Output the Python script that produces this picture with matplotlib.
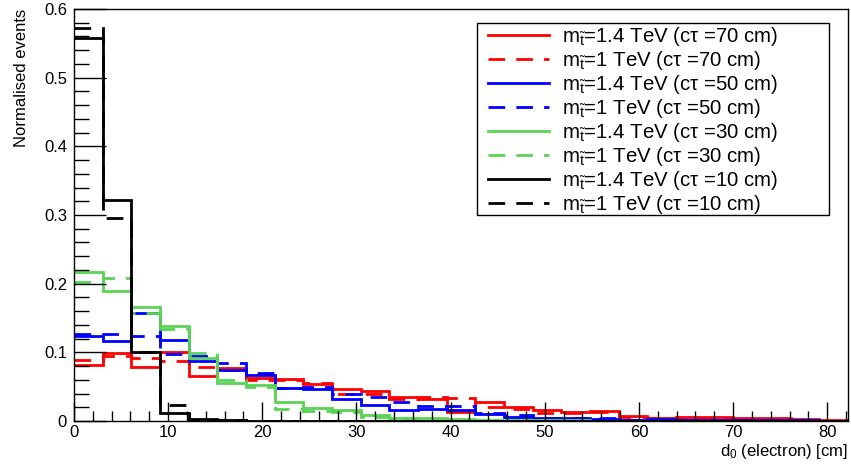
import numpy as np
import matplotlib
matplotlib.use('Agg')
import matplotlib.pyplot as plt
from matplotlib.ticker import MultipleLocator
from matplotlib.patches import Rectangle

plt.rcParams['font.family'] = ['Liberation Sans', 'DejaVu Sans']
plt.rcParams['mathtext.fontset'] = 'custom'
plt.rcParams['mathtext.rm'] = 'Liberation Sans'
plt.rcParams['mathtext.it'] = 'Liberation Sans'

# d0 histogram, 27 bins from 0 to 82.2 cm
nbins = 27
xmax = 82.2

red_14 = [0.082, 0.0995, 0.079, 0.100, 0.065, 0.077, 0.063, 0.061, 0.054, 0.046,
          0.043, 0.035, 0.032, 0.0136, 0.027, 0.021, 0.016, 0.0136, 0.015, 0.0073,
          0.005, 0.006, 0.006, 0.004, 0.004, 0.003, 0.001]
red_10 = [0.089, 0.094, 0.092, 0.088, 0.079, 0.074, 0.060, 0.059, 0.055, 0.040,
          0.039, 0.0316, 0.035, 0.034, 0.021, 0.017, 0.012, 0.011, 0.0136, 0.0053,
          0.004, 0.004, 0.005, 0.0035, 0.003, 0.001, 0.0]
blue_14 = [0.124, 0.117, 0.157, 0.118, 0.087, 0.074, 0.067, 0.048, 0.046, 0.0316,
           0.023, 0.016, 0.017, 0.016, 0.010, 0.0053, 0.004, 0.004, 0.003, 0.002,
           0.003, 0.002, 0.002, 0.001, 0.001, 0.001, 0.0]
blue_10 = [0.127, 0.127, 0.124, 0.097, 0.094, 0.084, 0.070, 0.048, 0.050, 0.040,
           0.0345, 0.028, 0.022, 0.022, 0.011, 0.0087, 0.005, 0.004, 0.004, 0.002,
           0.002, 0.002, 0.002, 0.001, 0.001, 0.0, 0.0]
green_14 = [0.217, 0.190, 0.166, 0.139, 0.092, 0.055, 0.052, 0.027, 0.019, 0.016,
            0.0087, 0.005, 0.004, 0.003, 0.002, 0.002, 0.001, 0.001, 0.0005, 0.0,
            0.0, 0.0, 0.0, 0.0, 0.0, 0.0, 0.0]
green_10 = [0.202, 0.208, 0.158, 0.134, 0.099, 0.059, 0.050, 0.017, 0.014, 0.0136,
            0.006, 0.005, 0.003, 0.002, 0.002, 0.001, 0.001, 0.0005, 0.0, 0.0,
            0.0, 0.0, 0.0, 0.0, 0.0, 0.0, 0.0]
black_14 = [0.558, 0.322, 0.101, 0.012, 0.003, 0.001] + [0.0] * 21
black_10 = [0.572, 0.295, 0.101, 0.023, 0.002, 0.001] + [0.0] * 21

series = [
    (red_14, '#ff0000', '-', 1.4, 70),
    (red_10, '#ff0000', '--', 1, 70),
    (blue_14, '#0000ff', '-', 1.4, 50),
    (blue_10, '#0000ff', '--', 1, 50),
    (green_14, '#59d454', '-', 1.4, 30),
    (green_10, '#59d454', '--', 1, 30),
    (black_14, '#000000', '-', 1.4, 10),
    (black_10, '#000000', '--', 1, 10),
]

edges = np.linspace(0, xmax, nbins + 1)

fig = plt.figure(figsize=(8.51, 4.67), dpi=100)
ax = fig.add_axes([74 / 851, 46 / 467, 774 / 851, 412 / 467])

for vals, col, ls, mass, ctau in series:
    style = '-' if ls == '-' else (0, (6, 4))
    label = r'm$_{\tilde{t}}$=' + '{} TeV (cτ ={} cm)'.format(mass, ctau)
    ax.stairs(vals, edges, baseline=None, color=col, linestyle=style,
              linewidth=2.0, label=label)

ax.set_xlim(0, xmax)
ax.set_ylim(0, 0.6)
ax.xaxis.set_major_locator(MultipleLocator(10))
ax.xaxis.set_minor_locator(MultipleLocator(2))
ax.yaxis.set_major_locator(MultipleLocator(0.1))
ax.yaxis.set_minor_locator(MultipleLocator(0.02))
ax.yaxis.set_major_formatter(plt.FuncFormatter(lambda v, p: '0' if abs(v) < 1e-9 else '{:.1f}'.format(v)))
ax.tick_params(axis='x', which='major', direction='in', length=14, width=1, labelsize=12, pad=3)
ax.tick_params(axis='x', which='minor', direction='in', length=7, width=1)
ax.tick_params(axis='y', which='major', direction='in', length=23, width=1, labelsize=12, pad=5)
ax.tick_params(axis='y', which='minor', direction='in', length=11, width=1)
for s in ax.spines.values():
    s.set_linewidth(1)

ax.set_xlabel(r'd$_0$ (electron) [cm]', fontsize=12, loc='right', labelpad=1)
ax.set_ylabel('Normalised events', fontsize=12, loc='top', labelpad=11)

# ROOT-style legend box with fixed size
box = Rectangle((477 / 851, 1 - 215 / 467), 352 / 851, 192 / 467,
                transform=fig.transFigure, facecolor='white', edgecolor='black',
                linewidth=1, zorder=4, clip_on=False)
ax.add_patch(box)
leg = ax.legend(loc='upper left', bbox_to_anchor=(488 / 851, 1 - 25 / 467),
                bbox_transform=fig.transFigure, borderaxespad=0, fontsize=14.7,
                frameon=False, handlelength=3.0, handletextpad=0.6,
                labelspacing=0.05, borderpad=0)
leg.set_zorder(5)

fig.savefig('out.png', dpi=100)
